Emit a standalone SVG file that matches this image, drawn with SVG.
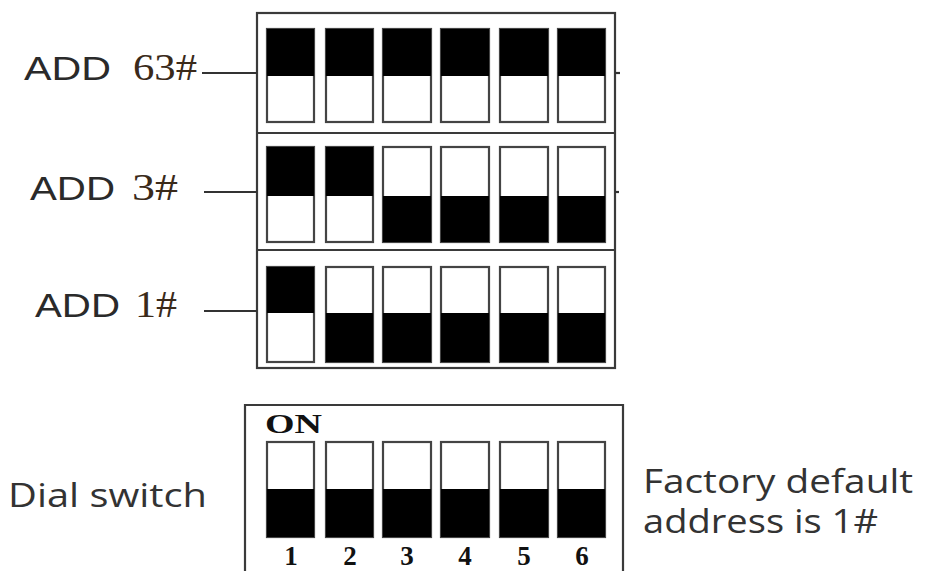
<svg xmlns="http://www.w3.org/2000/svg" width="926" height="571" viewBox="0 0 926 571">
<defs>
<style>
.frame{fill:none;stroke:#3a3a3a;stroke-width:2.2}
.sw{fill:#fff;stroke:#444;stroke-width:2.2}
.blk{fill:#000}
.lead{stroke:#333;stroke-width:2.2}
.add{font-family:"Liberation Sans",Arial,sans-serif;font-size:33px;fill:#2a2a2a}
.num{font-family:"Liberation Serif","Times New Roman",serif;font-size:37px;fill:#3a2a1a}
.lbl{font-family:"Open Sans","Noto Sans",sans-serif;font-size:32px;fill:#333}
.bnum{font-family:"Liberation Serif","Times New Roman",serif;font-weight:bold;font-size:27px;fill:#111;text-anchor:middle}
</style>
</defs>
<rect width="926" height="571" fill="#fff"/>
<g id="top-panel">
<rect class="frame" x="257" y="13" width="358" height="355"/>
<line class="frame" x1="257" y1="133" x2="615" y2="133"/>
<line class="frame" x1="257" y1="250" x2="615" y2="250"/>
</g>
<g id="row-63">
<rect class="sw" x="267" y="29" width="47" height="93"/><rect class="blk" x="267" y="29" width="47" height="47"/>
<rect class="sw" x="326" y="29" width="47" height="93"/><rect class="blk" x="326" y="29" width="47" height="47"/>
<rect class="sw" x="383" y="29" width="48" height="93"/><rect class="blk" x="383" y="29" width="48" height="47"/>
<rect class="sw" x="441" y="29" width="48" height="93"/><rect class="blk" x="441" y="29" width="48" height="47"/>
<rect class="sw" x="500" y="29" width="48" height="93"/><rect class="blk" x="500" y="29" width="48" height="47"/>
<rect class="sw" x="558" y="29" width="47" height="93"/><rect class="blk" x="558" y="29" width="47" height="47"/>
<text class="add" x="24" y="80" textLength="87" lengthAdjust="spacingAndGlyphs">ADD</text>
<text class="num" x="133" y="80" textLength="64" lengthAdjust="spacingAndGlyphs">63#</text>
</g>
<g id="row-3">
<rect class="sw" x="267" y="147" width="47" height="95"/><rect class="blk" x="267" y="147" width="47" height="49"/>
<rect class="sw" x="326" y="147" width="47" height="95"/><rect class="blk" x="326" y="147" width="47" height="49"/>
<rect class="sw" x="383" y="147" width="48" height="95"/><rect class="blk" x="383" y="196" width="48" height="46"/>
<rect class="sw" x="441" y="147" width="48" height="95"/><rect class="blk" x="441" y="196" width="48" height="46"/>
<rect class="sw" x="500" y="147" width="48" height="95"/><rect class="blk" x="500" y="196" width="48" height="46"/>
<rect class="sw" x="558" y="147" width="47" height="95"/><rect class="blk" x="558" y="196" width="47" height="46"/>
<text class="add" x="30" y="200" textLength="85" lengthAdjust="spacingAndGlyphs">ADD</text>
<text class="num" x="132" y="200" textLength="46" lengthAdjust="spacingAndGlyphs">3#</text>
</g>
<g id="row-1">
<rect class="sw" x="267" y="267" width="47" height="95"/><rect class="blk" x="267" y="267" width="47" height="46"/>
<rect class="sw" x="326" y="267" width="47" height="95"/><rect class="blk" x="326" y="313" width="47" height="49"/>
<rect class="sw" x="383" y="267" width="48" height="95"/><rect class="blk" x="383" y="313" width="48" height="49"/>
<rect class="sw" x="441" y="267" width="48" height="95"/><rect class="blk" x="441" y="313" width="48" height="49"/>
<rect class="sw" x="500" y="267" width="48" height="95"/><rect class="blk" x="500" y="313" width="48" height="49"/>
<rect class="sw" x="558" y="267" width="47" height="95"/><rect class="blk" x="558" y="313" width="47" height="49"/>
<text class="add" x="35" y="317" textLength="85" lengthAdjust="spacingAndGlyphs">ADD</text>
<text class="num" x="135" y="317" textLength="42" lengthAdjust="spacingAndGlyphs">1#</text>
</g>
<g id="connectors">
<line class="lead" x1="202" y1="73" x2="257" y2="73"/>
<line class="lead" x1="204" y1="192" x2="257" y2="192"/>
<line class="lead" x1="204" y1="311" x2="257" y2="311"/>
<line class="lead" x1="615" y1="73" x2="620" y2="73"/>
<line class="lead" x1="615" y1="192" x2="619" y2="192"/>
</g>
<g id="dial-switch">
<path class="frame" d="M245 571 V405 H623 V571"/>
<text x="265" y="433" font-family="'Liberation Serif','Times New Roman',serif" font-weight="bold" font-size="28" fill="#111" textLength="57" lengthAdjust="spacingAndGlyphs">ON</text>
<rect class="sw" x="267" y="442" width="47" height="95"/><rect class="blk" x="267" y="489" width="47" height="48"/>
<rect class="sw" x="326" y="442" width="47" height="95"/><rect class="blk" x="326" y="489" width="47" height="48"/>
<rect class="sw" x="383" y="442" width="48" height="95"/><rect class="blk" x="383" y="489" width="48" height="48"/>
<rect class="sw" x="441" y="442" width="48" height="95"/><rect class="blk" x="441" y="489" width="48" height="48"/>
<rect class="sw" x="500" y="442" width="48" height="95"/><rect class="blk" x="500" y="489" width="48" height="48"/>
<rect class="sw" x="558" y="442" width="47" height="95"/><rect class="blk" x="558" y="489" width="47" height="48"/>
<text class="bnum" x="291" y="565">1</text>
<text class="bnum" x="350" y="565">2</text>
<text class="bnum" x="407" y="565">3</text>
<text class="bnum" x="465" y="565">4</text>
<text class="bnum" x="524" y="565">5</text>
<text class="bnum" x="582" y="565">6</text>
</g>
<g id="dial-label">
<text class="lbl" x="8" y="507" font-size="30" textLength="199" lengthAdjust="spacingAndGlyphs">Dial switch</text>
</g>
<g id="default-note">
<text class="lbl" x="643" y="493" textLength="270" lengthAdjust="spacingAndGlyphs">Factory default</text>
<text class="lbl" x="643" y="533" textLength="235" lengthAdjust="spacingAndGlyphs">address is 1#</text>
</g>
</svg>
